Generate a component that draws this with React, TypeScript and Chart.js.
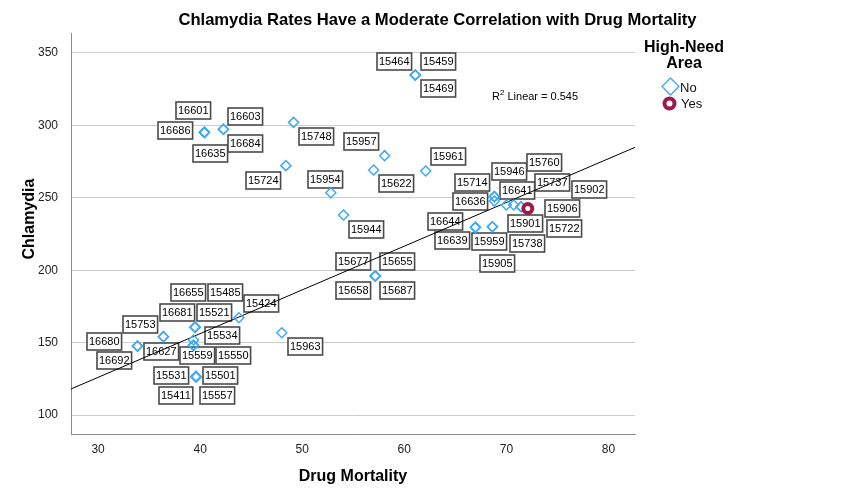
import { useEffect, useRef } from 'react';
import { Chart, registerables } from 'chart.js';

Chart.register(...registerables);

// Area identifiers, one per plotted area
const IDS = [
  '15464', '15459', '15469', '16601', '16686', '16635', '16603', '16684', '15748', '15724',
  '15954', '15957', '15622', '15961', '15944', '15677', '15655', '15658', '15687', '16644',
  '16639', '15959', '15905', '15714', '15946', '16636', '16641', '15760', '15737', '15901',
  '15902', '15722', '15738', '16680', '16692', '15753', '16627', '16655', '15485', '16681',
  '15521', '15534', '15559', '15550', '15424', '15963', '15531', '15501', '15411', '15557',
  '15906',
];

// Drug mortality rate (x)
const DRUG_MORTALITY = [
  61.08, 61.08, 61.08, 40.42, 40.42, 40.42, 42.28, 42.28, 49.15, 48.4,
  52.8, 58.07, 57.0, 62.1, 54.05, 57.16, 57.16, 57.16, 57.16, 66.96,
  66.96, 68.63, 68.63, 68.82, 68.82, 68.82, 70.0, 70.72, 71.44, 71.44,
  72.1, 72.1, 72.1, 33.86, 33.86, 36.4, 36.4, 39.5, 39.5, 39.5,
  39.5, 39.35, 39.35, 39.35, 43.8, 48.0, 39.6, 39.6, 39.6, 39.6,
  72.1,
];

// Chlamydia rate (y)
const CHLAMYDIA = [
  334.8, 334.8, 334.8, 295.2, 295.2, 295.2, 297.3, 297.3, 302.1, 272.2,
  253.5, 279.1, 269.2, 268.5, 238.1, 196.0, 196.0, 196.0, 196.0, 229.6,
  229.6, 230.0, 230.0, 250.8, 250.8, 247.8, 245.0, 245.0, 243.8, 243.8,
  242.6, 242.6, 242.6, 147.6, 147.6, 154.1, 154.1, 160.6, 160.6, 160.6,
  160.6, 151.8, 148.1, 148.1, 167.2, 156.8, 126.5, 126.5, 126.5, 126.5,
  242.6,
];

// High-need area flag
const HIGH_NEED = [
  'No', 'No', 'No', 'No', 'No', 'No', 'No', 'No', 'No', 'No',
  'No', 'No', 'No', 'No', 'No', 'No', 'No', 'No', 'No', 'No',
  'No', 'No', 'No', 'No', 'No', 'No', 'No', 'No', 'No', 'No',
  'No', 'No', 'No', 'No', 'No', 'No', 'No', 'No', 'No', 'No',
  'No', 'No', 'No', 'No', 'No', 'No', 'No', 'No', 'No', 'No',
  'Yes',
];

// Placement of each ID box relative to its marker (px)
const LABEL_DX = [
  -21, 23, 23, -10.8, -29.3, 5.4, 22.2, 22.2, 23, -22.4,
  -5.7, -23.3, 22.4, 22.6, 22.4, -21.7, 22.3, -21.7, 22.3, -29.7,
  -23.3, -3, 5, -22, 14.8, -24, 11, 30.7, 31.6, 4.3,
  61.5, 36.2, -0.5, -33.6, -23.1, -23.3, -2.1, -6.8, 30.3, -17.5,
  19.2, 28.7, 3.5, 39.7, 22.2, 23.3, -24.8, 24.3, -20.2, 21,
  34.2,
];
const LABEL_DY = [
  -13.5, -13.5, 14, -21.8, -2.3, 21, -12.8, 14, 14.4, 14.6,
  -13.7, -14.2, 14, -14.3, 14.3, -14.3, -14.3, 14, 14, -5.6,
  12.7, 15, 36.3, -13.9, -25, 0.7, -14.7, -42.2, -23.9, 17,
  -19, 19.8, 34.8, -5, 14, -12.4, 15.3, -35, -34.5, -15,
  -14.8, -4.7, 9.7, 9.7, -14, 14, -1, -1, 19, 19,
  0.2,
];

const X_TICKS = [30, 40, 50, 60, 70, 80];
const Y_TICKS = [100, 150, 200, 250, 300, 350];
const X_MIN = 27.35;
const X_MAX = 82.6;
const Y_MIN = 86.9;
const Y_MAX = 363.8;

// Linear fit of chlamydia on drug mortality
const FIT_INTERCEPT = 35.4;
const FIT_SLOPE = 3.02;
const R_SQUARED = 0.545;

const TITLE = 'Chlamydia Rates Have a Moderate Correlation with Drug Mortality';
const X_TITLE = 'Drug Mortality';
const Y_TITLE = 'Chlamydia';
const LEGEND_TITLE = ['High-Need', 'Area'];
const GROUPS = ['No', 'Yes'];

const FONT = '"Liberation Sans", Arial, sans-serif';
const NO_COLOR = '#3FA9F5';
const YES_COLOR = '#9E1A4C';

const idLabels = {
  id: 'idLabels',
  beforeDatasetsDraw(chart: any) {
    const { ctx, scales } = chart;
    ctx.save();
    ctx.font = `11px ${FONT}`;
    ctx.textAlign = 'center';
    ctx.textBaseline = 'middle';
    IDS.forEach((id, i) => {
      const cx = scales.x.getPixelForValue(DRUG_MORTALITY[i]) + LABEL_DX[i];
      const cy = scales.y.getPixelForValue(CHLAMYDIA[i]) + LABEL_DY[i];
      const w = ctx.measureText(id).width + 4;
      const h = 17;
      const l = Math.round(cx - w / 2);
      const t = Math.round(cy - h / 2);
      ctx.fillStyle = '#ffffff';
      ctx.fillRect(l, t, w, h);
      ctx.strokeStyle = '#4a4a4a';
      ctx.lineWidth = 1.6;
      ctx.strokeRect(l, t, w, h);
      ctx.fillStyle = '#000000';
      ctx.fillText(id, l + w / 2, t + h / 2 + 0.5);
    });
    ctx.restore();
  },
};

const annotations = {
  id: 'annotations',
  afterDraw(chart: any) {
    const { ctx, chartArea } = chart;
    ctx.save();
    ctx.fillStyle = '#000000';
    ctx.textBaseline = 'middle';

    // chart title
    ctx.font = `bold 16.6px ${FONT}`;
    ctx.textAlign = 'center';
    ctx.fillText(TITLE, 437.5, 20);

    // axis titles
    ctx.font = `bold 16px ${FONT}`;
    ctx.fillText(X_TITLE, (chartArea.left + chartArea.right) / 2, 477);
    ctx.save();
    ctx.translate(30, 219);
    ctx.rotate(-Math.PI / 2);
    ctx.fillText(Y_TITLE, 0, 0);
    ctx.restore();

    // R squared note
    ctx.textAlign = 'left';
    ctx.font = `11px ${FONT}`;
    let x = 492;
    const y = 97;
    ctx.fillText('R', x, y);
    x += ctx.measureText('R').width;
    ctx.font = `8px ${FONT}`;
    ctx.fillText('2', x, y - 4);
    x += ctx.measureText('2').width;
    ctx.font = `11px ${FONT}`;
    ctx.fillText(` Linear = ${R_SQUARED.toFixed(3)}`, x, y);

    // legend
    ctx.textAlign = 'center';
    ctx.font = `bold 16px ${FONT}`;
    ctx.fillText(LEGEND_TITLE[0], 684, 47.5);
    ctx.fillText(LEGEND_TITLE[1], 684, 64);

    ctx.lineWidth = 1.3;
    ctx.strokeStyle = NO_COLOR;
    ctx.beginPath();
    ctx.moveTo(670.5, 78);
    ctx.lineTo(679, 86.5);
    ctx.lineTo(670.5, 95);
    ctx.lineTo(662, 86.5);
    ctx.closePath();
    ctx.stroke();

    ctx.lineWidth = 4;
    ctx.strokeStyle = YES_COLOR;
    ctx.beginPath();
    ctx.arc(669.5, 103.5, 5, 0, Math.PI * 2);
    ctx.stroke();

    ctx.textAlign = 'left';
    ctx.font = `13px ${FONT}`;
    ctx.fillStyle = '#111111';
    ctx.fillText(GROUPS[0], 680, 88.5);
    ctx.fillText(GROUPS[1], 681, 104.5);
    ctx.restore();
  },
};

export default function App() {
  const canvasRef = useRef<HTMLCanvasElement | null>(null);

  useEffect(() => {
    const canvas = canvasRef.current;
    if (!canvas) return;

    const points = (group: string) =>
      IDS.map((_, i) => ({ x: DRUG_MORTALITY[i], y: CHLAMYDIA[i], g: HIGH_NEED[i] }))
        .filter((p) => p.g === group)
        .map(({ x, y }) => ({ x, y }));

    const fitLine = [X_MIN, X_MAX].map((x) => ({ x, y: FIT_INTERCEPT + FIT_SLOPE * x }));

    const chart = new Chart(canvas, {
      type: 'scatter',
      data: {
        datasets: [
          {
            label: GROUPS[0],
            data: points('No'),
            pointStyle: 'rectRot',
            pointRadius: 5,
            pointBorderWidth: 1.5,
            borderColor: NO_COLOR,
            backgroundColor: 'rgba(255,255,255,0)',
            order: 1,
          },
          {
            label: GROUPS[1],
            data: points('Yes'),
            pointStyle: 'circle',
            pointRadius: 4.5,
            pointBorderWidth: 4,
            borderColor: YES_COLOR,
            backgroundColor: '#ffffff',
            order: 0,
          },
          {
            type: 'line',
            label: 'fit',
            data: fitLine,
            borderColor: '#000000',
            borderWidth: 1,
            pointRadius: 0,
            fill: false,
            order: 2,
          } as any,
        ],
      },
      options: {
        animation: false,
        responsive: false,
        devicePixelRatio: 1,
        layout: { padding: { left: 0, right: 213, top: 33, bottom: 0 } },
        plugins: {
          legend: { display: false },
          tooltip: { enabled: false },
          title: { display: false },
        },
        scales: {
          x: {
            type: 'linear',
            min: X_MIN,
            max: X_MAX,
            afterBuildTicks: (s: any) => {
              s.ticks = X_TICKS.map((value) => ({ value }));
            },
            afterFit: (s: any) => {
              s.height = 64;
            },
            grid: { display: false, drawTicks: false },
            border: { display: true, color: '#8a8a8a', width: 1 },
            ticks: { padding: 8, color: '#222222', font: { size: 12, family: FONT } },
          },
          y: {
            type: 'linear',
            min: Y_MIN,
            max: Y_MAX,
            afterBuildTicks: (s: any) => {
              s.ticks = Y_TICKS.map((value) => ({ value }));
            },
            afterFit: (s: any) => {
              s.width = 71;
            },
            grid: { display: true, drawTicks: false, color: '#cccccc', lineWidth: 1 },
            border: { display: true, color: '#8a8a8a', width: 1 },
            ticks: { padding: 13, color: '#222222', font: { size: 12, family: FONT } },
          },
        },
      },
      plugins: [idLabels, annotations],
    });

    return () => chart.destroy();
  }, []);

  return (
    <div style={{ position: 'fixed', left: 0, top: 0, width: 848, height: 498, background: '#ffffff' }}>
      <canvas ref={canvasRef} width={848} height={498} style={{ display: 'block' }} />
    </div>
  );
}
